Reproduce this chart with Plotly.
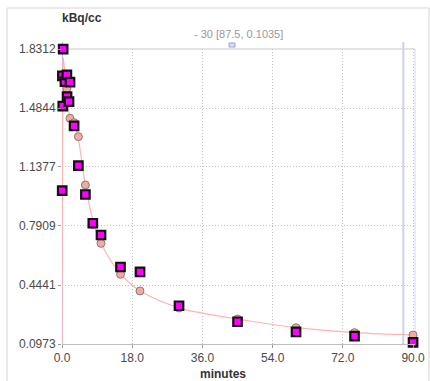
import plotly.graph_objects as go

# ---- data ----
frame_t = [0.05, 0.1, 0.2, 0.3, 0.75, 1.25, 1.3, 1.8, 2.05, 3.1, 4.2, 6.0, 7.9, 10.0,
           15.0, 20.0, 30.0, 45.0, 60.0, 75.0, 90.0]
measured = [0.999, 1.673, 1.496, 1.830, 1.639, 1.679, 1.551, 1.522, 1.636, 1.379, 1.146,
            0.976, 0.807, 0.738, 0.550, 0.521, 0.322, 0.228, 0.169, 0.144, 0.107]
model_pts = [0.999, 1.673, 1.496, 1.830, 1.639, 1.600, 1.551, 1.522, 1.424, 1.398, 1.316,
             1.032, 0.800, 0.689, 0.507, 0.409, 0.309, 0.244, 0.193, 0.164, 0.150]

curve_t = [0.0, 0.1, 0.2, 0.3, 0.6, 1.0, 1.5, 2.05, 3.1, 4.2, 6.0, 8.0, 10.0, 15.0,
           20.0, 30.0, 40.0, 45.0, 60.0, 75.0, 90.0]
curve_v = [0.0, 1.10, 1.70, 1.78, 1.72, 1.64, 1.54, 1.43, 1.40, 1.30, 1.03, 0.82, 0.69,
           0.51, 0.41, 0.31, 0.263, 0.244, 0.193, 0.164, 0.150]

x_ticks = [0.0, 18.0, 36.0, 54.0, 72.0, 90.0]
x_tick_text = ["0.0", "18.0", "36.0", "54.0", "72.0", "90.0"]
y_ticks = [0.0973, 0.4441, 0.7909, 1.1377, 1.4844, 1.8312]
y_tick_text = ["0.0973", "0.4441", "0.7909", "1.1377", "1.4844", "1.8312"]

cursor_x = 87.5
cursor_label = "- 30 [87.5, 0.1035]"

# ---- figure ----
L, R, T, B = 62, 15, 49, 37
W, H = 430, 381
PW, PH = W - L - R, H - T - B


def px(xp):
    return (xp - L) / PW


def py(yp):
    return (H - B - yp) / PH


fig = go.Figure()

fig.add_trace(go.Scatter(x=curve_t, y=curve_v, mode="lines", line_shape="spline",
                         line=dict(color="#ffb4b4", width=1.2), hoverinfo="skip",
                         showlegend=False))
fig.add_trace(go.Scatter(x=frame_t, y=model_pts, mode="markers", cliponaxis=False,
                         marker=dict(symbol="circle", size=8, color="#f2aaa0",
                                     line=dict(color="#8a7a78", width=1)),
                         showlegend=False))
fig.add_trace(go.Scatter(x=frame_t, y=measured, mode="markers", cliponaxis=False,
                         marker=dict(symbol="square", size=8.5, color="#ff00ff",
                                     line=dict(color="#111111", width=2.2)),
                         showlegend=False))

shapes = [
    # outer panel frame
    dict(type="rect", xref="paper", yref="paper", x0=px(7), x1=px(429), y0=py(8), y1=py(392),
         line=dict(color="#d4d4d4", width=1), layer="below"),
    # plot border (top/right)
    dict(type="line", xref="paper", yref="paper", x0=0, x1=1, y0=1, y1=1,
         line=dict(color="#c8c8c8", width=1), layer="below"),
    dict(type="line", xref="paper", yref="paper", x0=1, x1=1, y0=0, y1=1,
         line=dict(color="#d8d8ec", width=1), layer="below"),
    # left cursor (time 0)
    dict(type="line", xref="x", yref="paper", x0=0, x1=0, y0=0, y1=py(42),
         line=dict(color="#9a9ae6", width=1.5), layer="below"),
    # right cursor
    dict(type="line", xref="x", yref="paper", x0=cursor_x, x1=cursor_x, y0=0, y1=py(42),
         line=dict(color="#cfcfee", width=2), layer="below"),
    # handle
    dict(type="rect", xref="paper", yref="paper", x0=px(229), x1=px(235), y0=py(47), y1=py(43),
         line=dict(color="#9aa4d0", width=1), fillcolor="#d6dcf4"),
]

annotations = [
    dict(text="<b>kBq/cc</b>", xref="paper", yref="paper", x=px(82), y=py(18),
         showarrow=False, font=dict(family="Liberation Sans, Arial", size=12, color="#333333"),
         xanchor="center", yanchor="middle"),
    dict(text="<b>minutes</b>", xref="paper", yref="paper", x=px(222.5), y=py(374),
         showarrow=False, font=dict(family="Liberation Sans, Arial", size=12, color="#333333"),
         xanchor="center", yanchor="middle"),
    dict(text=cursor_label, xref="paper", yref="paper", x=px(238), y=py(34),
         showarrow=False, font=dict(family="Liberation Sans, Arial", size=11, color="#9a9a9a"),
         xanchor="center", yanchor="middle"),
]

fig.update_layout(
    width=W, height=H,
    margin=dict(l=L, r=R, t=T, b=B, pad=0, autoexpand=False),
    paper_bgcolor="white", plot_bgcolor="white",
    shapes=shapes, annotations=annotations,
    font=dict(family="Liberation Sans, Arial", size=12, color="#4a4a4a"),
    xaxis=dict(range=[0, 90.5], tickvals=x_ticks, ticktext=x_tick_text,
               showgrid=True, gridcolor="#c4c4c4", griddash="1px,2px", gridwidth=1,
               zeroline=False, showline=True, linecolor="#bdbdbd", linewidth=1,
               ticks="outside", ticklen=3, tickcolor="#999999", automargin=False,
               tickfont=dict(size=12, color="#4a4a4a")),
    yaxis=dict(range=[0.0973, 1.8312], tickvals=y_ticks, ticktext=y_tick_text,
               showgrid=True, gridcolor="#c4c4c4", griddash="1px,2px", gridwidth=1,
               zeroline=False, showline=False, automargin=False,
               ticks="outside", ticklen=3, tickcolor="#999999",
               tickfont=dict(size=12, color="#4a4a4a")),
    showlegend=False,
)

fig.write_html("out.html", config={"displayModeBar": False},
               post_script="document.body.style.margin='0';document.body.style.overflow='hidden';")
